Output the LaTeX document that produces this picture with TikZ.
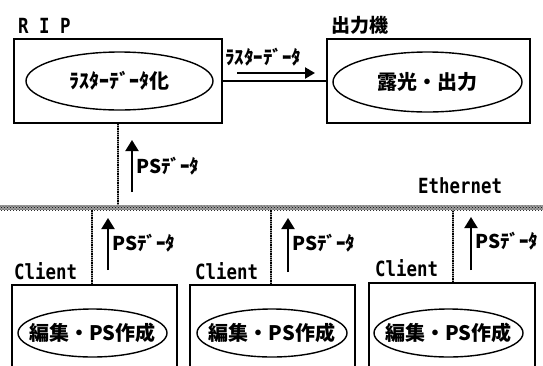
\documentclass[tikz,border=0pt]{standalone}
\usepackage{fontspec}
\setmainfont{Noto Sans CJK JP}
\newfontfamily\monof{DejaVu Sans Mono}
\usetikzlibrary{arrows.meta,patterns,shapes.geometric}
\newcommand{\talltext}[1]{\scalebox{1}[1.2]{#1}}
\tikzset{
  box/.style={draw,line width=1.8pt,inner sep=0pt},
  oval/.style={draw,ellipse,line width=1.4pt,inner sep=0pt},
  jtext/.style={font=\fontsize{20}{24}\selectfont\bfseries,inner sep=0pt},
  bus/.style={inner sep=0pt,fill=gray!75,postaction={pattern=crosshatch dots}},
  drop/.style={draw=gray!80,line width=2.6pt,postaction={draw=black,line width=2.6pt,dash pattern=on 1pt off 0.8pt}},
  uparrow/.style={line width=2pt,-{Triangle[length=11pt,width=13pt]}},
  rarrow/.style={line width=2.2pt,-{Triangle[length=10pt,width=11pt]}},
  jlabel/.style={inner sep=0pt,anchor=west,font=\fontsize{19}{22}\selectfont\bfseries},
  mlabel/.style={inner sep=0pt,anchor=west,font=\monof\bfseries\fontsize{17.4}{20}\selectfont},
}
\begin{document}
\begin{tikzpicture}[x=1pt,y=-1pt]
\clip (0,0) rectangle (543,365);
% top boxes
\node[box,minimum width=208,minimum height=84] (rip) at (118,81) {};
\node[box,minimum width=203,minimum height=84] (out) at (428.5,81) {};
\node[oval,minimum width=187,minimum height=58,label={[jtext]center:ﾗｽﾀｰﾃﾞｰﾀ化}] (ripjob) at (119.5,81) {};
\node[oval,minimum width=189,minimum height=60,label={[jtext]center:露光・出力}] (outjob) at (427.5,82) {};
\node[mlabel] (riplbl) at (18,26) {\talltext{R I P}};
\node[jlabel] (outlbl) at (331,25) {出力機};
% rip -> output
\draw[line width=1.8pt] (rip.east) -- (out.west);
\coordinate (ra1) at (237,73);
\coordinate (ra2) at (315,73);
\draw[rarrow] (ra1) -- (ra2);
\node[jlabel] (ralbl) at (225,57) {ﾗｽﾀｰﾃﾞｰﾀ};
% ethernet bus
\node[bus,minimum width=560,minimum height=5] (eth) at (271.5,207.5) {};
\node[mlabel] (ethlbl) at (418,186) {\talltext{Ethernet}};
% rip drop
\draw[drop] (rip.south) -- (rip.south |- eth.north);
\coordinate (pa1) at (132,192);
\coordinate (pa2) at (132,140);
\draw[uparrow] (pa1) -- (pa2);
\node[jlabel] (pl0) at (136,166) {PSﾃﾞｰﾀ};
% clients
\node[box,minimum width=165,minimum height=115] (c1) at (94.5,342.5) {};
\node[box,minimum width=165,minimum height=115] (c2) at (272.5,342.5) {};
\node[box,minimum width=166,minimum height=117] (c3) at (452,341.5) {};
\node[oval,minimum width=149,minimum height=48,label={[jtext]center:編集・PS作成}] (j1) at (92.5,333) {};
\node[oval,minimum width=150,minimum height=48,label={[jtext]center:編集・PS作成}] (j2) at (272,333) {};
\node[oval,minimum width=149,minimum height=48,label={[jtext]center:編集・PS作成}] (j3) at (448.5,333) {};
\node[mlabel] (cl1) at (14,271) {\talltext{Client}};
\node[mlabel] (cl2) at (195,271) {\talltext{Client}};
\node[mlabel] (cl3) at (375,268) {\talltext{Client}};
\draw[drop] ([xshift=-2.5pt]c1.north) -- ([xshift=-2.5pt]c1.north |- eth.south);
\draw[drop] ([xshift=-1.5pt]c2.north) -- ([xshift=-1.5pt]c2.north |- eth.south);
\draw[drop] ([xshift=1pt]c3.north) -- ([xshift=1pt]c3.north |- eth.south);
\coordinate (a1s) at (108,270); \coordinate (a1e) at (108,218);
\coordinate (a2s) at (288,272); \coordinate (a2e) at (288,218);
\coordinate (a3s) at (471,270); \coordinate (a3e) at (471,217);
\draw[uparrow] (a1s) -- (a1e);
\draw[uparrow] (a2s) -- (a2e);
\draw[uparrow] (a3s) -- (a3e);
\node[jlabel] (pl1) at (112,243) {PSﾃﾞｰﾀ};
\node[jlabel] (pl2) at (292,243) {PSﾃﾞｰﾀ};
\node[jlabel] (pl3) at (475,241) {PSﾃﾞｰﾀ};
\end{tikzpicture}
\end{document}
